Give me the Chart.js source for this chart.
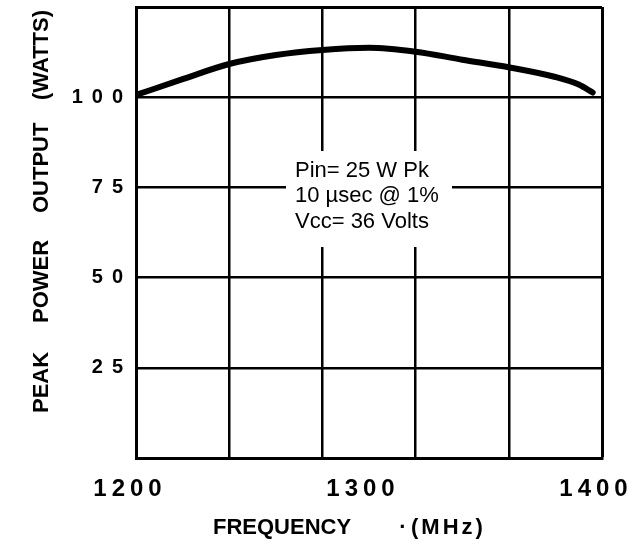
<!DOCTYPE html>
<html><head><meta charset="utf-8">
<script src="https://cdn.jsdelivr.net/npm/chart.js@4"></script>
<style>html,body{margin:0;padding:0;background:#fff;}#wrap{width:635px;height:548px;position:relative;}</style>
</head><body><div id="wrap"><canvas id="c" width="635" height="548"></canvas></div>
<script>
// ---- data ----
const frequencyMHz = [1200, 1220, 1240, 1260, 1280, 1300, 1320, 1340, 1360, 1380, 1390, 1396];
const peakPowerW   = [100.6, 105.0, 109.2, 111.7, 113.1, 113.7, 112.6, 110.4, 108.3, 105.6, 103.5, 101.3];
const xGridTicks   = [1200, 1240, 1280, 1300, 1320, 1360, 1400];
const xLabelTicks  = [1200, 1300, 1400];
const yLabelTicks  = [25, 50, 75, 100];
const yAxisWords   = ['PEAK', 'POWER', 'OUTPUT', '(WATTS)'];
const xAxisParts   = ['FREQUENCY', '·', '(MHz)'];
const noteLines    = ['Pin= 25 W Pk', '10 µsec @ 1%', 'Vcc= 36 Volts'];

const FONT = '"Liberation Sans", Arial, Helvetica, sans-serif';

const spacingPlugin = {
  id: 'spacing',
  afterLayout(chart) {
    [['x', '5px'], ['y', '9px']].forEach(([id, ls]) => {
      const s = chart.scales[id];
      if (s && !s._lsWrapped) {
        const orig = s.drawLabels.bind(s);
        s.drawLabels = function (area) {
          const c = this.ctx; c.letterSpacing = ls; orig(area); c.letterSpacing = '0px';
        };
        s._lsWrapped = true;
      }
    });
  }
};

const textPlugin = {
  id: 'texts',
  afterDraw(chart) {
    const c = chart.ctx;
    c.save();
    c.letterSpacing = '0px';
    // annotation box (covers grid lines)
    c.fillStyle = '#fff';
    c.fillRect(286, 151, 166, 96);
    c.fillStyle = '#000';
    c.font = '22px ' + FONT;
    c.textAlign = 'left';
    c.textBaseline = 'middle';
    const ys = [171, 196, 222];
    noteLines.forEach((t, i) => c.fillText(t, 295, ys[i]));

    // y axis title (rotated, word by word)
    c.font = 'bold 22px ' + FONT;
    c.textBaseline = 'alphabetic';
    c.save();
    c.translate(40, 0);
    c.rotate(-Math.PI / 2);
    const starts = [413, 323, 213, 100];
    yAxisWords.forEach((w, i) => c.fillText(w, -starts[i], 8));
    c.restore();

    // x axis title
    c.textAlign = 'left';
    c.fillText(xAxisParts[0], 213, 534);
    c.textAlign = 'center';
    c.fillText(xAxisParts[1], 403, 534);
    c.textAlign = 'left';
    c.letterSpacing = '3px';
    c.fillText(xAxisParts[2], 411, 534);
    c.restore();
  }
};

new Chart(document.getElementById('c'), {
  type: 'line',
  data: {
    datasets: [{
      data: frequencyMHz.map((f, i) => ({x: f, y: peakPowerW[i]})),
      borderColor: '#000',
      borderWidth: 6,
      borderCapStyle: 'round',
      pointRadius: 0,
      cubicInterpolationMode: 'monotone',
      fill: false
    }]
  },
  options: {
    responsive: false,
    devicePixelRatio: 1,
    animation: false,
    layout: {padding: {top: 7, right: 33, left: 0, bottom: 0}},
    plugins: {legend: {display: false}, tooltip: {enabled: false}},
    scales: {
      x: {
        type: 'linear', min: 1200, max: 1400,
        afterBuildTicks: s => { s.ticks = xGridTicks.map(v => ({value: v})); },
        afterFit: s => { s.height = 90; s.paddingLeft = 0; s.paddingRight = 0; },
        ticks: {
          autoSkip: false, maxRotation: 0, minRotation: 0,
          callback: v => xLabelTicks.includes(v) ? String(v) : '',
          font: {family: FONT, size: 24, weight: 'bold'},
          color: '#000', padding: 17, labelOffset: -6
        },
        grid: {
          drawTicks: false,
          color: ctx => (ctx.tick && ctx.tick.value === 1300) ? 'rgba(0,0,0,0)' : '#000',
          lineWidth: ctx => (ctx.tick && ctx.tick.value === 1400) ? 3 : 2.5
        },
        border: {color: '#000', width: 3}
      },
      y: {
        min: 0, max: 125,
        afterFit: s => { s.width = 136; s.paddingTop = 0; s.paddingBottom = 0; },
        ticks: {
          stepSize: 25,
          callback: v => yLabelTicks.includes(v) ? String(v) : '',
          font: {family: FONT, size: 20, weight: 'bold'},
          color: '#000', padding: 4
        },
        grid: {
          drawTicks: false,
          color: '#000',
          lineWidth: ctx => (ctx.tick && ctx.tick.value === 125) ? 3 : 2.5
        },
        border: {color: '#000', width: 3}
      }
    }
  },
  plugins: [spacingPlugin, textPlugin]
});
</script></body></html>
